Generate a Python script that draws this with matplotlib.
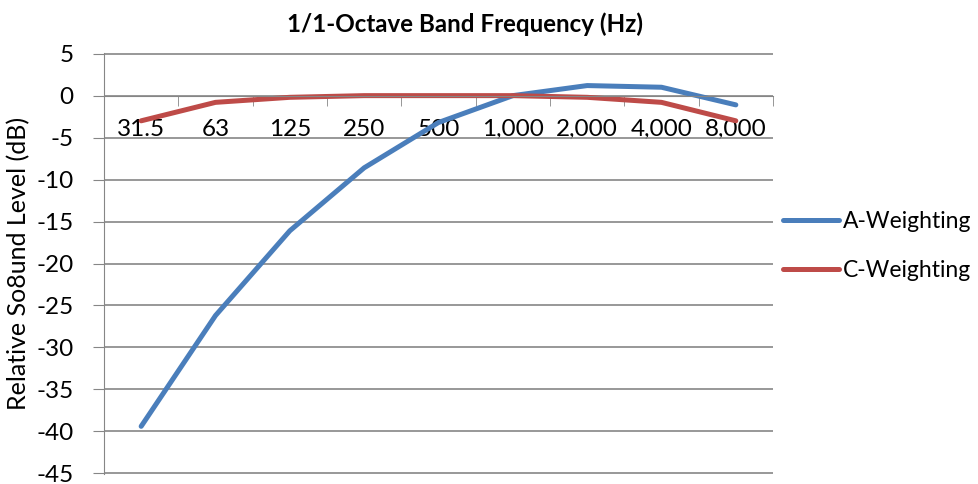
import numpy as np
import matplotlib.pyplot as plt

bands = ['31.5', '63', '125', '250', '500', '1,000', '2,000', '4,000', '8,000']
a_weighting = [-39.4, -26.2, -16.1, -8.6, -3.2, 0.0, 1.2, 1.0, -1.1]
c_weighting = [-3.0, -0.8, -0.2, 0.0, 0.0, 0.0, -0.2, -0.8, -3.0]

plt.rcParams['font.family'] = ['Lato', 'DejaVu Sans']
plt.rcParams['axes.unicode_minus'] = False

fig = plt.figure(figsize=(9.79, 4.84), dpi=100)
ax = fig.add_axes([104 / 979, 1 - 474 / 484, (773 - 104) / 979, (474 - 53) / 484])

x = np.arange(len(bands))
ax.plot(x, a_weighting, color='#4A7EBB', lw=3.6, solid_capstyle='round', label='A-Weighting')
ax.plot(x, c_weighting, color='#BE4B48', lw=3.6, solid_capstyle='round', label='C-Weighting')

ax.set_xlim(-0.5, len(bands) - 0.5)
ax.set_ylim(-45.08, 5.08)
ax.set_yticks(np.arange(-45, 6, 5))
ax.yaxis.grid(True, color='#868686', lw=1.2)
ax.set_axisbelow(True)

# category axis crosses at y=0
ax.spines['bottom'].set_position(('data', 0))
ax.spines['bottom'].set_color('#868686')
ax.spines['left'].set_color('#868686')
ax.spines['top'].set_visible(False)
ax.spines['right'].set_visible(False)

ax.set_xticks(x)
ax.set_xticklabels(bands)
ax.set_xticks(np.arange(-0.5, len(bands), 1), minor=True)
ax.tick_params(axis='x', which='major', length=0, pad=17, labelsize=17.5)
ax.tick_params(axis='x', which='minor', length=7, color='#868686', direction='out')
ax.tick_params(axis='y', length=8, color='#868686', pad=14, labelsize=17.5)

ax.set_ylabel('Relative So8und Level (dB)', fontsize=18, labelpad=4)
fig.text(465 / 979, 1 - 24 / 484, '1/1-Octave Band Frequency (Hz)', fontsize=17.4,
         fontweight='bold', ha='center', va='center')

fig.legend(*ax.get_legend_handles_labels(), loc='center left',
           bbox_to_anchor=(783 / 979, 1 - 246 / 484), frameon=False, fontsize=16.5,
           handlelength=2.45, handletextpad=0.17, labelspacing=1.2,
           borderpad=0, borderaxespad=0)

fig.savefig('out.png', dpi=100)
